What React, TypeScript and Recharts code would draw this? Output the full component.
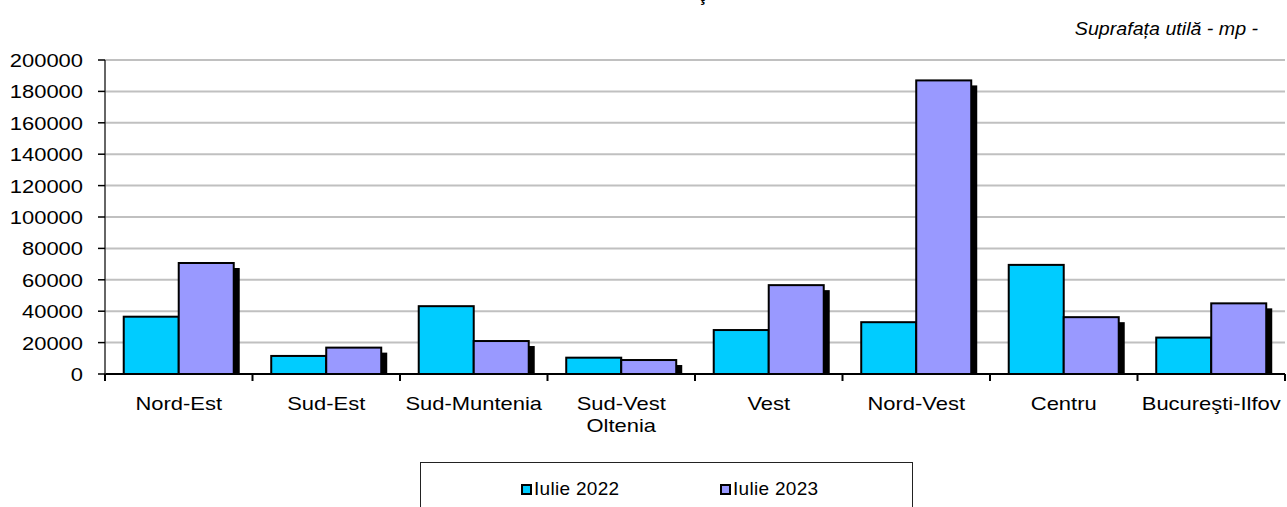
import React from "react";
import {
  BarChart,
  Bar,
  XAxis,
  YAxis,
  CartesianGrid,
  Legend,
} from "recharts";

// ===== data =====
const categories = [
  "Nord-Est",
  "Sud-Est",
  "Sud-Muntenia",
  "Sud-Vest Oltenia",
  "Vest",
  "Nord-Vest",
  "Centru",
  "Bucureşti-Ilfov",
];
const iulie2022 = [36500, 11500, 43200, 10400, 28000, 33000, 69500, 23200];
const iulie2023 = [70700, 16800, 21000, 8900, 56600, 187000, 36200, 45000];
const seriesNames = ["Iulie 2022", "Iulie 2023"];
const seriesColors = ["#00CCFF", "#9999FF"];
const yTicks = [0, 20000, 40000, 60000, 80000, 100000, 120000, 140000, 160000, 180000, 200000];

const data = categories.map((name, i) => ({
  name,
  a: iulie2022[i],
  b: iulie2023[i],
}));

// ===== layout =====
const W = 1287;
const H = 507;
const TOP = 60;
const LEFT = 105;
const RIGHT = 2;
const PLOT_BOTTOM = 374;
const BAND = (W - LEFT - RIGHT) / categories.length;
const FONT = "'Liberation Sans', Arial, sans-serif";
const SX = 1.22;

const YTick = ({ x, y, payload }: any) => (
  <g transform={`translate(${x},${y + 0.5})`}>
    <text
      transform={`scale(${SX},1)`}
      textAnchor="end"
      dy="0.36em"
      fontSize={18}
      fontFamily={FONT}
      fill="#000"
    >
      {payload.value}
    </text>
  </g>
);

const XTick = ({ x, payload, index }: any) => {
  const lines = String(payload.value).split(" ");
  const half = BAND / 2;
  const last = index === categories.length - 1;
  return (
    <g>
      <line x1={x - half} x2={x - half} y1={PLOT_BOTTOM} y2={PLOT_BOTTOM + 7} stroke="#000" strokeWidth={2} />
      {last && (
        <line x1={x + half} x2={x + half} y1={PLOT_BOTTOM} y2={PLOT_BOTTOM + 7} stroke="#000" strokeWidth={2} />
      )}
      <g transform={`translate(${x},${PLOT_BOTTOM + 35.5})`}>
        <text
          transform={`scale(${SX},1)`}
          textAnchor="middle"
          fontSize={18}
          fontFamily={FONT}
          fill="#000"
        >
          {lines.map((l, i) => (
            <tspan key={i} x={0} dy={i === 0 ? 0 : 23}>
              {l}
            </tspan>
          ))}
        </text>
      </g>
    </g>
  );
};

/* bar with a black drop shadow (second series) */
const ShadowBar = (props: any) => {
  const { x, y, width, height, fill } = props;
  if (!height) return null;
  return (
    <g>
      <rect x={x + 6} y={y + 5} width={width} height={Math.max(height - 5, 0)} fill="#000" />
      <rect x={x} y={y} width={width} height={height} fill={fill} stroke="#000" strokeWidth={2} />
    </g>
  );
};

const PlainBar = (props: any) => {
  const { x, y, width, height, fill } = props;
  if (!height) return null;
  return <rect x={x} y={y} width={width} height={height} fill={fill} stroke="#000" strokeWidth={2} />;
};

const renderLegend = () => (
  <div
    style={{
      position: "relative",
      width: 493,
      height: 60,
      border: "1px solid #222",
      boxSizing: "border-box",
      background: "#fff",
      fontFamily: FONT,
    }}
  >
    {seriesNames.map((n, i) => (
      <div
        key={n}
        style={{
          position: "absolute",
          left: 100 + i * 199,
          top: 14,
          display: "flex",
          alignItems: "center",
          height: 24,
        }}
      >
        <span
          style={{
            width: 11,
            height: 11,
            boxSizing: "border-box",
            border: "2px solid #000",
            background: seriesColors[i],
            display: "inline-block",
            marginRight: 2,
          }}
        />
        <span style={{ fontSize: 19, letterSpacing: 0.3, color: "#000" }}>{n}</span>
      </div>
    ))}
  </div>
);

export default function App() {
  return (
    <div style={{ position: "absolute", left: 0, top: 0, width: W, height: H, background: "#fff", overflow: "hidden" }}>
      {/* bottom of the title, cropped off in the reference */}
      <div
        style={{
          position: "absolute",
          left: 699,
          top: -15,
          fontFamily: FONT,
          fontWeight: "bold",
          fontSize: 18,
          lineHeight: "20px",
        }}
      >
        ţ
      </div>
      <div
        style={{
          position: "absolute",
          right: W - 1258,
          top: 18,
          fontFamily: FONT,
          fontStyle: "italic",
          fontSize: 18,
          lineHeight: "22px",
          transform: "scaleX(1.09)",
          transformOrigin: "right center",
          whiteSpace: "nowrap",
          color: "#000",
        }}
      >
        Suprafața utilă - mp -
      </div>
      <BarChart
        width={W}
        height={H}
        data={data}
        margin={{ top: TOP, right: RIGHT, left: 0, bottom: 0 }}
        barGap={0}
        barCategoryGap="12.7%"
      >
        <CartesianGrid vertical={false} stroke="#c0c0c0" strokeWidth={2} />
        <XAxis
          dataKey="name"
          height={H - PLOT_BOTTOM}
          axisLine={{ stroke: "#000", strokeWidth: 2 }}
          tickLine={false}
          tick={<XTick />}
          interval={0}
        />
        <YAxis
          width={LEFT}
          domain={[0, 200000]}
          ticks={yTicks}
          interval={0}
          axisLine={{ stroke: "#333", strokeWidth: 1.5 }}
          tickLine={{ stroke: "#000", strokeWidth: 1.5 }}
          tickSize={7}
          tickMargin={15}
          tick={<YTick />}
        />
        <Legend
          layout="horizontal"
          verticalAlign="middle"
          align="center"
          wrapperStyle={{ left: 420, top: 462, width: 493, height: 60 }}
          content={renderLegend}
        />
        <Bar
          dataKey="a"
          name={seriesNames[0]}
          fill={seriesColors[0]}
          shape={<PlainBar />}
          isAnimationActive={false}
        />
        <Bar
          dataKey="b"
          name={seriesNames[1]}
          fill={seriesColors[1]}
          shape={<ShadowBar />}
          isAnimationActive={false}
        />
      </BarChart>
    </div>
  );
}
